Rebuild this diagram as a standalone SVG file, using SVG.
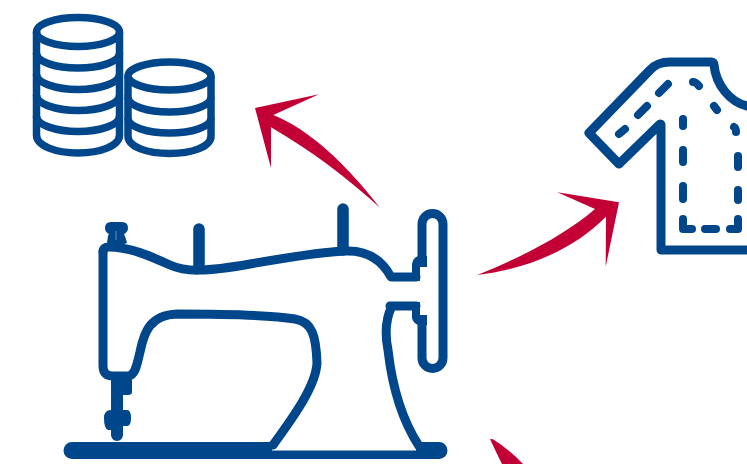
<svg xmlns="http://www.w3.org/2000/svg" width="747" height="464" viewBox="0 0 747 464">
<style>
.l{fill:none;stroke:#00468b;stroke-width:9;stroke-linecap:round;stroke-linejoin:round}
.c{fill:none;stroke:#00468b;stroke-width:7.500;stroke-linejoin:round}
.f{fill:#00468b}
.a{fill:#c20035}
.s{fill:none;stroke:#00468b;stroke-width:8;stroke-linecap:round;stroke-linejoin:round}
.p{fill:none;stroke:#00468b;stroke-width:11.500;stroke-linecap:round}
</style>
<rect width="747" height="464" fill="#fff"/>
<g id="coins-large">
<ellipse class="c" cx="78" cy="32" rx="41.500" ry="14.500"/>
<path class="c" d="M36.500,32V135C36.500,146 56,153 78,153C100,153 119.500,146 119.500,135V32"/>
<path class="c" d="M36.500,53C36.500,62 56,68 78,68C100,68 119.500,62 119.500,53M36.500,74C36.500,83 56,89.500 78,89.500C100,89.500 119.500,83 119.500,74M36.500,95C36.500,104 56,110.500 78,110.500C100,110.500 119.500,104 119.500,95M36.500,116C36.500,125 56,131.500 78,131.500C100,131.500 119.500,125 119.500,116"/>
</g>
<g id="coins-small">
<ellipse class="c" cx="169.500" cy="76" rx="41.500" ry="14"/>
<path class="c" d="M128,76V136C128,147 147.500,153.500 169.500,153.500C191.500,153.500 211,147 211,136V76"/>
<path class="c" d="M128,97C128,106 147.500,112 169.500,112C191.500,112 211,106 211,97M128,118C128,127 147.500,133 169.500,133C191.500,133 211,127 211,118"/>
</g>
<g id="shirt">
<path class="l" d="M747,250H661V125Q661,123 659,125L619,164L589,133L650,70Q657,62 670,62H711Q714,62 714,65C716,85 730,102 747,106"/>
<path class="s" d="M619,134L625,129M638,115L647,106M659,93L668,84M693,82Q696,82 699,86M714,106L717,110M734,127Q736,128 736,132M683,119V126M683,150V162M683,186V199M683,219V229H692M705,229H716M730,229H738V219M738,156V167M738,190V200"/>
</g>
<g id="sewing-machine">
<path class="f" d="M72,442H272V450.500H416V442H439A8.500,8.500 0 0 1 439,459H72A8.500,8.500 0 0 1 72,442Z"/>
<path class="l" d="M103,252Q103,247 109,247C130,247 150,256 170,265C185,272 205,272 250,264C290,257 320,252 345,251C368,250 382,260 391,277H416M390,306H416M392,306C385,320 385,335 388,350C392,385 402,420 419,446"/>
<path class="l" d="M103,252V366Q103,376 113,376H128C135,376 137,365 140,352C144,332 150,315 177,314C220,314 270,315 295,319C312,322 316,335 317,363C316,385 295,415 273,445"/>
<path class="l" d="M422,262V224A10.500,10.500 0 0 1 443,224V358A10.500,10.500 0 0 1 422,358V320"/>
<path class="f" d="M412,281V264Q413,258 418,256L427,256V267H420V281ZM412,302H420V315H427V325H418Q413,323 412,318Z"/>
<path class="f" d="M111,376H125V380H132V392Q132,395 128,395H123V410H127Q131,410 131,418Q131,426 127,426H123V435A6,6 0 0 1 111,435V430H108Q104,428 104,418Q104,410 111,410Z"/>
<path class="f" d="M105,228Q105,222 111,222H122Q128,222 128,228Q128,232 124,234Q126,238 127,243L106,250L108,236Q109,234 109,234Q105,232 105,228Z"/>
<path d="M116,231V240" fill="none" stroke="#7fa3c5" stroke-width="0.800"/>
<path class="p" d="M199,229V268M343,209V250"/>
</g>
<g id="connectors">
<path class="a" d="M255,108L319,94.300L273.300,115C310,130 345,163 380,207.700C345,176 310,150 271,127.300V168Z"/>
<path class="a" d="M619,202.300L557.300,192.300L595,209C565,235 520,258 477.300,275C535,268 578,245 606,216.700L605.700,266.700Z"/>
<path class="a" d="M490,439L493,439.300Q510,450 523,464H502Q495,450 490,439Z"/>
</g>
</svg>
